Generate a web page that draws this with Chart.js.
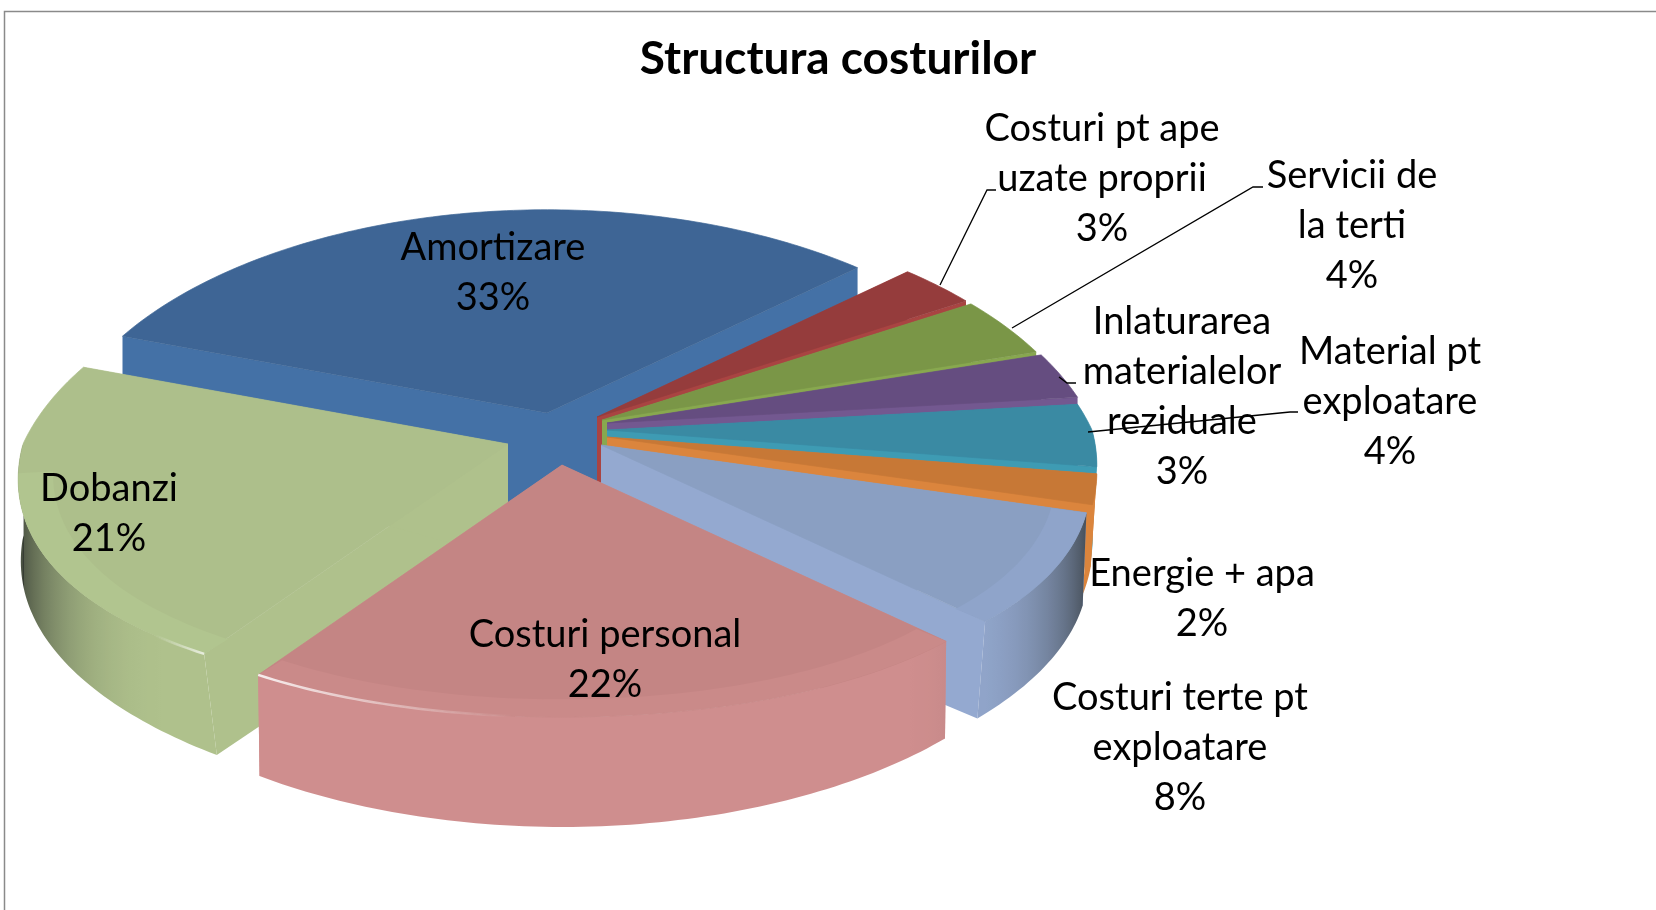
<!DOCTYPE html>
<html>
<head>
<meta charset="utf-8">
<title>Structura costurilor</title>
<script src="https://cdn.jsdelivr.net/npm/chart.js@4"></script>
<style>
    html, body { margin: 0; padding: 0; background: #fff; }
    #wrap { position: relative; width: 1656px; height: 910px; }
</style>
</head>
<body>
<div id="wrap"><canvas id="costChart"></canvas></div>
<script>
// Chart data, in drawing order clockwise from the top right
const categories = ['Costuri pt ape uzate proprii', 'Servicii de la terti', 'Inlaturarea materialelor reziduale',
    'Material pt exploatare', 'Energie + apa', 'Costuri terte pt exploatare', 'Costuri personal', 'Dobanzi', 'Amortizare'];
const percents = [3, 4, 3, 4, 2, 8, 22, 21, 33];
const labelLines = [
    ['Costuri pt ape', 'uzate proprii'],
    ['Servicii de', 'la terti'],
    ['Inlaturarea', 'materialelor', 'reziduale'],
    ['Material pt', 'exploatare'],
    ['Energie + apa'],
    ['Costuri terte pt', 'exploatare'],
    ['Costuri personal'],
    ['Dobanzi'],
    ['Amortizare']
];

// Styles per slice
const topColors = ['#953c3c', '#7a9647', '#654d80', '#3a8aa3', '#c77836', '#8a9fc2', '#c48584', '#adbf8b', '#3e6595'];
const wallColors = ['#a94442', '#88a84f', '#735890', '#3e9bb3', '#db853d', '#94a9d0', '#cf8e8e', '#afc18c', '#4471a6'];
const bevelColors = [null, null, null, null, null, '#8fa4ca', '#ca8a89', '#b1c58f', null];
const wallShadow = [0, 0, 0, 0, 0, 1, 1, 1, 1];
const wallInset = [0.02, 0.02, 0.02, 0.07, 0.07, 0.024, 0.004, 0.032, 0];

// Pull of each slice away from the pie centre (the exploded look), in pixels
const pullX = [-3, 2, 7, 7, 7, 1, -38, -92, -53];
const pullY = [-13, -10, -7, 0, 7, 15, 35, 14, -17];

// Label placement: centre x and y of the first line
const labelX = [1102, 1352, 1182, 1390, 1202, 1180, 605, 109, 493];
const labelY = [129, 176, 322, 352, 574, 698, 635, 489, 248];
const LINE_HEIGHT = 50;

// Leader lines for the outside labels
const leaders = [
    [[940, 285], [987, 190], [996, 190]],
    [[1012, 328], [1253, 187], [1263, 187]],
    [[1059, 377], [1067, 383], [1076, 383]],
    [[1088, 432], [1290, 412], [1298, 412]]
];

// Projection of the flat pie onto the tilted view
const PIE_X = 600, PIE_Y = 430;
const RADIUS_X = 485, RADIUS_Y = 252;
const TIP_DEPTH = 115;

function project(angle, radius, index) {
    const u = Math.cos(angle) * radius;
    const v = -Math.sin(angle) * radius;
    const w = 1 + (v > 0 ? 0.24 : 0.14) * v;
    const h = v > 0 ? 1 + 0.24 * v : 1;
    return {
        x: PIE_X + pullX[index] + RADIUS_X * u / w,
        y: PIE_Y + pullY[index] - RADIUS_Y * v / h,
        u: u,
        v: v
    };
}

function wallDepth(p) {
    if (p.u === 0 && p.v === 0) return TIP_DEPTH;
    return p.v > 0 ? 93 - 60 * p.v : 93 + 17 * Math.pow(p.v, 4);
}

// Where a top point ends up on the lower edge of the wall
function below(p, index) {
    const inset = wallInset[index] * Math.min(1, Math.max(0, -p.v * 1.2));
    return {
        x: p.x - (p.x - PIE_X) * inset,
        y: p.y + wallDepth(p)
    };
}

function hexToRgb(hex) {
    return [1, 3, 5].map(i => parseInt(hex.substr(i, 2), 16));
}

function shadeWall(index, u) {
    const t = Math.pow(Math.max(0, (Math.abs(u) - 0.6) / 0.4), 2.5) * 0.9 * wallShadow[index];
    const rgb = hexToRgb(wallColors[index]);
    const dark = [38, 42, 40];
    return 'rgb(' + rgb.map((c, i) => Math.round(c + (dark[i] - c) * t)).join(',') + ')';
}

function fillFace(ctx, upper, index, color) {
    ctx.beginPath();
    upper.forEach((p, i) => i ? ctx.lineTo(p.x, p.y) : ctx.moveTo(p.x, p.y));
    upper.slice().reverse().forEach(p => {
        const q = below(p, index);
        ctx.lineTo(q.x, q.y);
    });
    ctx.closePath();
    ctx.fillStyle = color;
    ctx.fill();
}

function drawSlice(ctx, arc, index) {
    const props = arc.getProps(['startAngle', 'endAngle']);
    const start = props.startAngle, end = props.endAngle;
    const tip = project(0, 0, index);
    const steps = Math.max(4, Math.ceil((end - start) / (Math.PI / 180)));
    const rim = [];
    const inner = [];
    for (let i = 0; i <= steps; i++) {
        const a = start + (end - start) * i / steps;
        rim.push(project(a, 1, index));
        inner.push(project(a, 0.93, index));
    }

    // radial walls
    fillFace(ctx, [tip, rim[0]], index, wallColors[index]);
    fillFace(ctx, [tip, rim[steps]], index, wallColors[index]);

    // outer wall, only the part that faces the viewer, shaded towards the sides
    const front = rim.filter(p => p.v < 0.02);
    if (front.length > 1) {
        const xs = front.map(p => p.x);
        const minX = Math.min(...xs), maxX = Math.max(...xs);
        const grad = ctx.createLinearGradient(minX, 0, maxX, 0);
        front.forEach(p => grad.addColorStop((p.x - minX) / (maxX - minX), shadeWall(index, p.u)));
        fillFace(ctx, front, index, grad);
    }

    // top face
    ctx.beginPath();
    ctx.moveTo(tip.x, tip.y);
    rim.forEach(p => ctx.lineTo(p.x, p.y));
    ctx.closePath();
    ctx.fillStyle = topColors[index];
    ctx.strokeStyle = topColors[index];
    ctx.lineWidth = 0.7;
    ctx.fill();
    ctx.stroke();

    // soft bevel along the front rim
    if (bevelColors[index]) {
        const rimFront = rim.filter(p => p.v < -0.1);
        const innerFront = inner.filter((p, i) => rim[i].v < -0.1);
        ctx.beginPath();
        rimFront.forEach((p, i) => i ? ctx.lineTo(p.x, p.y) : ctx.moveTo(p.x, p.y));
        innerFront.reverse().forEach(p => ctx.lineTo(p.x, p.y));
        ctx.closePath();
        ctx.fillStyle = bevelColors[index];
        ctx.fill();
    }

    return rim;
}

function drawStreak(ctx, points, alpha) {
    const first = points[0], last = points[points.length - 1];
    const grad = ctx.createLinearGradient(first.x, first.y, last.x, last.y);
    grad.addColorStop(0, 'rgba(255,255,255,' + alpha + ')');
    grad.addColorStop(1, 'rgba(255,255,255,0)');
    ctx.beginPath();
    points.forEach((p, i) => i ? ctx.lineTo(p.x, p.y) : ctx.moveTo(p.x, p.y));
    ctx.strokeStyle = grad;
    ctx.lineWidth = 2.5;
    ctx.stroke();
}

// Draws the slices from the arcs Chart.js laid out, back ones first
const slices3d = {
    id: 'slices3d',
    beforeDraw(chart) {
        const ctx = chart.ctx;
        ctx.save();
        ctx.strokeStyle = '#8a8a8a';
        ctx.lineWidth = 1.5;
        ctx.beginPath();
        ctx.moveTo(4.5, 910);
        ctx.lineTo(4.5, 11.5);
        ctx.lineTo(1656, 11.5);
        ctx.stroke();
        ctx.restore();
    },
    beforeDatasetsDraw(chart) {
        const ctx = chart.ctx;
        const arcs = chart.getDatasetMeta(0).data;
        const order = arcs.map((arc, i) => i).sort((a, b) => {
            const pa = arcs[a].getProps(['startAngle', 'endAngle']);
            const pb = arcs[b].getProps(['startAngle', 'endAngle']);
            return Math.sin((pa.startAngle + pa.endAngle) / 2) - Math.sin((pb.startAngle + pb.endAngle) / 2);
        });
        ctx.save();
        order.forEach(i => {
            const rim = drawSlice(ctx, arcs[i], i);
            // the glossy bevel on the two front corners
            if (i === 6) drawStreak(ctx, rim.slice(-30).reverse(), 0.85);
            if (i === 7) drawStreak(ctx, rim.slice(0, 8), 0.7);
        });
        ctx.restore();
        return false;
    }
};

const pieLabels = {
    id: 'pieLabels',
    afterDraw(chart) {
        const ctx = chart.ctx;
        ctx.save();
        ctx.strokeStyle = '#000';
        ctx.lineWidth = 1.3;
        leaders.forEach(line => {
            ctx.beginPath();
            line.forEach((p, i) => i ? ctx.lineTo(p[0], p[1]) : ctx.moveTo(p[0], p[1]));
            ctx.stroke();
        });
        ctx.fillStyle = '#000';
        ctx.font = '38px Lato';
        ctx.textAlign = 'center';
        ctx.textBaseline = 'middle';
        labelLines.forEach((lines, i) => {
            lines.concat(percents[i] + '%').forEach((text, n) => {
                ctx.fillText(text, labelX[i], labelY[i] + n * LINE_HEIGHT);
            });
        });
        ctx.restore();
    }
};

new Chart(document.getElementById('costChart').getContext('2d'), {
    type: 'pie',
    data: {
        labels: categories,
        datasets: [{
            data: percents,
            backgroundColor: topColors,
            borderWidth: 0
        }]
    },
    options: {
        responsive: true,
        maintainAspectRatio: false,
        animation: false,
        events: [],
        rotation: 48,
        layout: { padding: { left: 20 } },
        plugins: {
            legend: { display: false },
            tooltip: { enabled: false },
            title: {
                display: true,
                text: 'Structura costurilor',
                color: '#000',
                font: { family: 'Lato', size: 46, weight: 'bold' },
                padding: { top: 32, bottom: 10 }
            }
        }
    },
    plugins: [slices3d, pieLabels]
});
</script>
</body>
</html>
